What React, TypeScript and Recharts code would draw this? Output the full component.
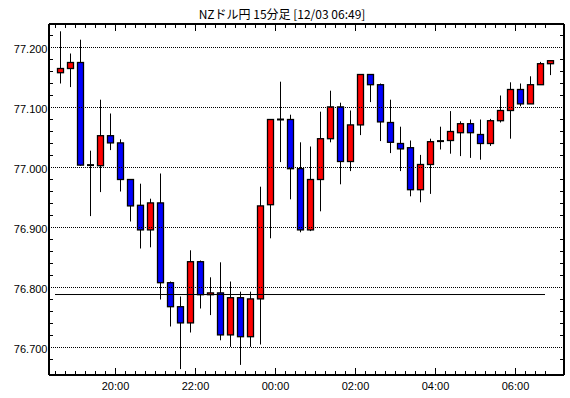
import React from 'react';
import { ComposedChart, Bar, XAxis, YAxis, ReferenceLine } from 'recharts';

const title = 'NZドル円 15分足 [12/03 06:49]';

const times = [
  '18:30', '18:45', '19:00', '19:15', '19:30', '19:45', '20:00', '20:15', '20:30', '20:45',
  '21:00', '21:15', '21:30', '21:45', '22:00', '22:15', '22:30', '22:45', '23:00', '23:15',
  '23:30', '23:45', '00:00', '00:15', '00:30', '00:45', '01:00', '01:15', '01:30', '01:45',
  '02:00', '02:15', '02:30', '02:45', '03:00', '03:15', '03:30', '03:45', '04:00', '04:15',
  '04:30', '04:45', '05:00', '05:15', '05:30', '05:45', '06:00', '06:15', '06:30', '06:45',
];

const opens = [
  77.158, 77.165, 77.175, 77.004, 77.003, 77.053, 77.041, 76.980, 76.937, 76.896,
  76.941, 76.808, 76.768, 76.741, 76.843, 76.788, 76.791, 76.721, 76.783, 76.718,
  76.781, 76.938, 77.080, 77.080, 76.998, 76.896, 76.980, 77.048, 77.101, 77.010,
  77.071, 77.155, 77.138, 77.075, 77.040, 77.033, 76.963, 77.005, 77.044, 77.045,
  77.058, 77.073, 77.055, 77.040, 77.078, 77.095, 77.130, 77.106, 77.138, 77.173,
];

const highs = [
  77.227, 77.190, 77.213, 77.028, 77.113, 77.090, 77.047, 76.980, 76.973, 76.948,
  76.990, 76.810, 76.785, 76.862, 76.845, 76.817, 76.842, 76.810, 76.793, 76.793,
  76.968, 77.080, 77.143, 77.088, 77.042, 77.035, 77.093, 77.128, 77.108, 77.095,
  77.155, 77.155, 77.140, 77.113, 77.068, 77.045, 77.021, 77.048, 77.068, 77.094,
  77.077, 77.080, 77.080, 77.081, 77.120, 77.142, 77.140, 77.152, 77.176, 77.178,
];

const lows = [
  77.140, 77.134, 77.003, 76.919, 76.959, 77.029, 76.960, 76.910, 76.865, 76.867,
  76.780, 76.735, 76.664, 76.725, 76.765, 76.754, 76.712, 76.701, 76.671, 76.701,
  76.705, 76.882, 77.009, 76.947, 76.892, 76.894, 76.927, 77.042, 76.972, 76.994,
  77.054, 77.109, 77.044, 77.024, 76.994, 76.952, 76.942, 76.956, 77.030, 77.023,
  77.019, 77.016, 77.013, 77.036, 77.075, 77.048, 77.102, 77.106, 77.138, 77.154,
];

const closes = [
  77.165, 77.175, 77.004, 77.004, 77.053, 77.041, 76.980, 76.936, 76.896, 76.941,
  76.808, 76.768, 76.741, 76.843, 76.788, 76.791, 76.721, 76.783, 76.718, 76.781,
  76.936, 77.080, 77.080, 76.998, 76.896, 76.980, 77.048, 77.101, 77.010, 77.071,
  77.155, 77.138, 77.076, 77.042, 77.031, 76.963, 77.005, 77.043, 77.044, 77.060,
  77.073, 77.058, 77.040, 77.078, 77.095, 77.130, 77.106, 77.138, 77.173, 77.178,
];

const majorYTicks = [76.7, 76.8, 76.9, 77.0, 77.1, 77.2];
const minorYTicks = [
  76.68, 76.7, 76.72, 76.74, 76.76, 76.78, 76.8, 76.82, 76.84, 76.86, 76.88, 76.9, 76.92, 76.94,
  76.96, 76.98, 77.0, 77.02, 77.04, 77.06, 77.08, 77.1, 77.12, 77.14, 77.16, 77.18, 77.2, 77.22,
];
const hourLabels = ['20:00', '22:00', '00:00', '02:00', '04:00', '06:00'];
const refLevel = 76.7883;
const refSpan = [-0.55, 48.45];

const yDomain = [76.65417, 77.23917];
const xDomain = [-1.15, 50.35];

const data = times.map((t, i) => ({
  i,
  time: t,
  open: opens[i],
  high: highs[i],
  low: lows[i],
  close: closes[i],
  range: [lows[i], highs[i]],
}));

const xTicks = times.map((_, i) => i - 0.5);
const labelFor = (v: number) => {
  const t = times[Math.round(v + 0.5)];
  return hourLabels.includes(t) ? t : '';
};
const isMajorY = (v: number) => majorYTicks.some((m) => Math.abs(m - v) < 1e-6);

const FONT = '"Liberation Sans", Arial, sans-serif';

const BottomTick = (props: any) => {
  const { x, y, payload } = props;
  const label = labelFor(payload.value);
  const len = label ? 7 : 4;
  return (
    <g>
      <line x1={x} y1={y} x2={x} y2={y - len} stroke="#000" strokeWidth={1} />
      {label ? (
        <text x={x} y={y + 15} textAnchor="middle" fontSize={11} fontFamily={FONT} fill="#000">
          {label}
        </text>
      ) : null}
    </g>
  );
};

const TopTick = (props: any) => {
  const { x, y, payload } = props;
  const label = labelFor(payload.value);
  const len = label ? 7 : 4;
  return <line x1={x} y1={y} x2={x} y2={y + len} stroke="#000" strokeWidth={1} />;
};

const LeftTick = (props: any) => {
  const { x, y, payload } = props;
  const major = isMajorY(payload.value);
  return (
    <g>
      {!major ? <line x1={x} y1={y} x2={x + 4} y2={y} stroke="#000" strokeWidth={1} /> : null}
      {major ? (
        <text x={x - 1.5} y={y + 5.5} textAnchor="end" fontSize={11} fontFamily={FONT} fill="#000">
          {Number(payload.value).toFixed(3)}
        </text>
      ) : null}
    </g>
  );
};

const RightTick = (props: any) => {
  const { x, y, payload } = props;
  const major = isMajorY(payload.value);
  if (major) return <g />;
  return <line x1={x} y1={y} x2={x - 4} y2={y} stroke="#000" strokeWidth={1} />;
};

const Candle = (props: any) => {
  const { x, y, width, height, payload } = props;
  if (x == null || y == null || payload == null) return null;
  const cx = Math.round(x + width / 2 - 0.5) + 0.5;
  const top = Math.min(y, y + height);
  const h = Math.abs(height);
  const { open, close, high, low } = payload;
  const span = high - low || 1;
  const py = (v: number) => top + ((high - v) / span) * h;
  const yo = py(open);
  const yc = py(close);
  const half = 3;
  if (open === close) {
    return (
      <g>
        <line x1={cx} y1={top} x2={cx} y2={top + h} stroke="#000" strokeWidth={1} />
        <line x1={cx - half - 0.5} y1={yo} x2={cx + half + 0.5} y2={yo} stroke="#000" strokeWidth={2} />
      </g>
    );
  }
  const up = close > open;
  const bt = Math.min(yo, yc);
  const bh = Math.abs(yo - yc);
  return (
    <g>
      <line x1={cx} y1={top} x2={cx} y2={top + h} stroke="#000" strokeWidth={1} />
      <rect
        x={cx - half}
        y={bt}
        width={half * 2}
        height={Math.max(bh, 1)}
        fill={up ? '#ff0000' : '#0000ff'}
        stroke="#000"
        strokeWidth={1.3}
      />
    </g>
  );
};

export default function App() {
  return (
    <div style={{ position: 'absolute', left: 0, top: 0, width: 570, height: 398, background: '#fff' }}>
      <div
        style={{
          position: 'absolute',
          left: 0,
          top: 6,
          width: 564,
          textAlign: 'center',
          fontFamily: '"Noto Sans CJK JP", sans-serif',
          fontSize: 12,
          lineHeight: '16px',
          color: '#000',
        }}
      >
        {title}
      </div>
      <ComposedChart width={570} height={398} data={data} margin={{ top: 0, right: 0, bottom: 0, left: 0 }}>
        <XAxis
          xAxisId="b"
          dataKey="i"
          type="number"
          domain={xDomain}
          allowDataOverflow
          ticks={xTicks}
          interval={0}
          height={23}
          tickSize={0}
          tickMargin={0}
          axisLine={{ stroke: '#000', strokeWidth: 2 }}
          tick={BottomTick}
        />
        <XAxis
          xAxisId="t"
          orientation="top"
          dataKey="i"
          type="number"
          domain={xDomain}
          allowDataOverflow
          ticks={xTicks}
          interval={0}
          height={24}
          tickSize={0}
          tickMargin={0}
          axisLine={{ stroke: '#000', strokeWidth: 2 }}
          tick={TopTick}
        />
        <YAxis
          yAxisId="l"
          type="number"
          domain={yDomain}
          allowDataOverflow
          ticks={minorYTicks}
          interval={0}
          width={49}
          tickSize={0}
          tickMargin={0}
          axisLine={{ stroke: '#000', strokeWidth: 2 }}
          tick={LeftTick}
        />
        <YAxis
          yAxisId="r"
          orientation="right"
          type="number"
          domain={yDomain}
          allowDataOverflow
          ticks={minorYTicks}
          interval={0}
          width={6}
          tickSize={0}
          tickMargin={0}
          axisLine={{ stroke: '#000', strokeWidth: 2 }}
          tick={RightTick}
        />
        {majorYTicks.map((v) => (
          <ReferenceLine
            key={v}
            xAxisId="b"
            yAxisId="l"
            y={v}
            stroke="#000"
            strokeWidth={1}
            strokeDasharray="1 1"
          />
        ))}
        <ReferenceLine
          xAxisId="b"
          yAxisId="l"
          segment={[
            { x: refSpan[0], y: refLevel },
            { x: refSpan[1], y: refLevel },
          ]}
          stroke="#000"
          strokeWidth={1}
        />
        <Bar
          xAxisId="b"
          yAxisId="l"
          dataKey="range"
          barSize={7}
          isAnimationActive={false}
          shape={Candle}
        />
      </ComposedChart>
    </div>
  );
}
